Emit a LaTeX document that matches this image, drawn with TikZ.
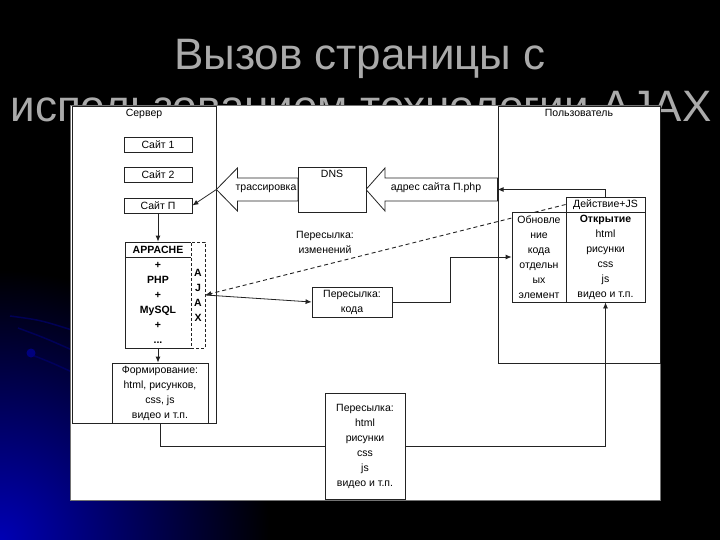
\documentclass[tikz,border=0pt]{standalone}
\usepackage{fontspec}
\setmainfont{Liberation Sans}
\usetikzlibrary{positioning,arrows.meta,calc}
\definecolor{TitleGray}{RGB}{170,170,170}
\definecolor{GlowBlue}{RGB}{0,0,180}
\definecolor{LineGray}{RGB}{35,35,35}
\pgfdeclarelayer{base}
\pgfdeclarelayer{wires}
\pgfsetlayers{base,wires,main}

\begin{document}
\begin{tikzpicture}[
  x=1pt, y=-1pt,
  font=\fontsize{10.5}{15}\selectfont,
  >={Latex[length=6pt,width=5pt]},
  region/.style={
    draw=LineGray,
    fill=white,
    line width=0.8pt,
    inner sep=0pt
  },
  box/.style={
    draw=LineGray,
    fill=white,
    line width=0.8pt,
    align=center,
    inner sep=0.5pt
  },
  site/.style={box, minimum width=68pt, minimum height=15pt},
  hollow/.style={draw=LineGray, fill=white, line width=0.8pt, line join=miter},
  title/.style={font=\fontsize{44}{44}\selectfont, text=TitleGray, anchor=base, inner sep=0pt},
  arr/.style={->, line width=0.8pt, LineGray},
  wire/.style={line width=0.8pt, LineGray},
  dasharr/.style={->, line width=0.9pt, LineGray, dash pattern=on 4pt off 3pt},
]
  \useasboundingbox (0,0) rectangle (720,540);

  % ========== фон, заголовок, большие области ==========
  \begin{pgfonlayer}{base}
    \fill[black] (0,0) rectangle (720,540);
    \begin{scope}
      \clip (0,0) rectangle (720,540);
      \shade[inner color=GlowBlue, outer color=black] (0,540) circle [radius=270pt];
      % блики слева
      \draw[GlowBlue!60!black, line width=1.5pt, opacity=.7] (10,316) .. controls (40,320) .. (72,330);
      \draw[GlowBlue!60!black, line width=1.5pt, opacity=.7] (18,328) .. controls (45,338) .. (72,350);
      \draw[GlowBlue!60!black, line width=1.5pt, opacity=.7] (32,355) .. controls (50,362) .. (72,372);
      \fill[GlowBlue!70!black] (31,353) circle [radius=4.5pt];
    \end{scope}

    \node[title] (ttl1) at (360,70) {Вызов страницы с};
    \node[title] (ttl2) at (361,122) {использованием технологии AJAX};

    \node[region, draw=black!55, minimum width=590pt, minimum height=395pt] (panel) at (365,302.5) {};
    \node[region, minimum width=144pt, minimum height=317pt,
      label={[anchor=north, inner sep=3pt]north:Сервер}] (srv) at (144,264.5) {};
    \node[region, minimum width=162pt, minimum height=257pt,
      label={[anchor=north, inner sep=3pt]north:Пользователь}] (usr) at (579,234.5) {};
  \end{pgfonlayer}

  % ========== сервер ==========
  \node[site] (site1) at (158,144.5) {Сайт 1};
  \node[site] (site2) at (158,174.5) {Сайт 2};
  \node[site] (siteP) at (158,205.5) {Сайт П};
  \node[box, font=\fontsize{10.5}{15}\selectfont\bfseries,
    minimum width=66pt, minimum height=15pt] (aphead) at (158,249.5) {APPACHE};
  \node[box, font=\fontsize{10.5}{15}\selectfont\bfseries,
    minimum width=66pt, minimum height=91pt] (apbody) at (158,302.5)
    {+\\PHP\\+\\MySQL\\+\\...};
  \node[box, dash pattern=on 3pt off 2pt, font=\fontsize{10.5}{15}\selectfont\bfseries,
    minimum width=14pt, minimum height=106pt] (ajax) at (198,295) {A\\J\\A\\X};
  \node[box, minimum width=96pt, minimum height=60pt] (form) at (160,393)
    {Формирование:\\html, рисунков,\\css, js\\видео и т.п.};

  % ========== DNS и полые стрелки ==========
  \coordinate (trtip) at (srv.east |- 0,189.5);
  \coordinate (adtail) at (usr.west |- 0,189.5);
  \draw[hollow] (trtip) -- ++(21,-21.5) -- ++(0,10) -- (298,178)
    -- (298,201) -- ($(trtip)+(21,11.5)$) -- ++(0,10) -- cycle;
  \draw[hollow] (366,189.5) -- ++(19,-21.5) -- ++(0,10) -- ($(adtail)+(0,-11.5)$)
    -- ($(adtail)+(0,11.5)$) -- (385,201) -- ++(0,10) -- cycle;
  \node[box, minimum width=68pt, minimum height=45pt,
    label={[anchor=north, inner sep=3pt]north:DNS}] (dns) at (332,189.5) {};
  \node[anchor=east, inner sep=1pt] (trtxt) at ($(dns.west)+(0,-1)$) {трассировка};
  \node[inner sep=1pt] (adtxt) at ($(dns.east)!0.5!(adtail)+(4,-2)$) {адрес сайта П.php};

  % ========== середина ==========
  \node[align=center, inner sep=1pt] (chg) at (325,242) {Пересылка:\\изменений};
  \node[box, minimum width=80pt, minimum height=30pt] (code) at (352,302) {Пересылка:\\кода};
  \node[box, minimum width=80pt, minimum height=106pt] (send) at (365,446)
    {Пересылка:\\html\\рисунки\\css\\js\\видео и т.п.};

  % ========== пользователь ==========
  \node[box, minimum width=79pt, minimum height=15pt] (act) at (605.5,204.5) {Действие+JS};
  \node[box, minimum width=54pt, minimum height=90pt] (upd) at (539,257)
    {Обновле\\ние\\кода\\отдельн\\ых\\элемент};
  \node[box, minimum width=79pt, minimum height=90pt] (open) at (605.5,257)
    {\textbf{Открытие}\\html\\рисунки\\css\\js\\видео и т.п.};

  % ========== связи ==========
  \begin{pgfonlayer}{wires}
    \draw[arr] (trtip) -- (siteP.east);
    \draw[arr] (siteP.south) -- (aphead.north);
    \draw[arr] (apbody.south) -- (apbody.south |- form.north);
    \draw[arr] (act.north) |- (adtail);
    \draw[dasharr] (act.west) -- (ajax.east);
    \draw[arr] (ajax.east) -- (code.west);
    \coordinate (Mx) at (450,0);
    \draw[arr] (code.east) -- (code.east -| Mx) -- (upd.west -| Mx) -- (upd.west);
    \draw[wire] (form.south) |- (send.west);
    \draw[arr] (send.east) -| (open.south);
  \end{pgfonlayer}
\end{tikzpicture}
\end{document}
